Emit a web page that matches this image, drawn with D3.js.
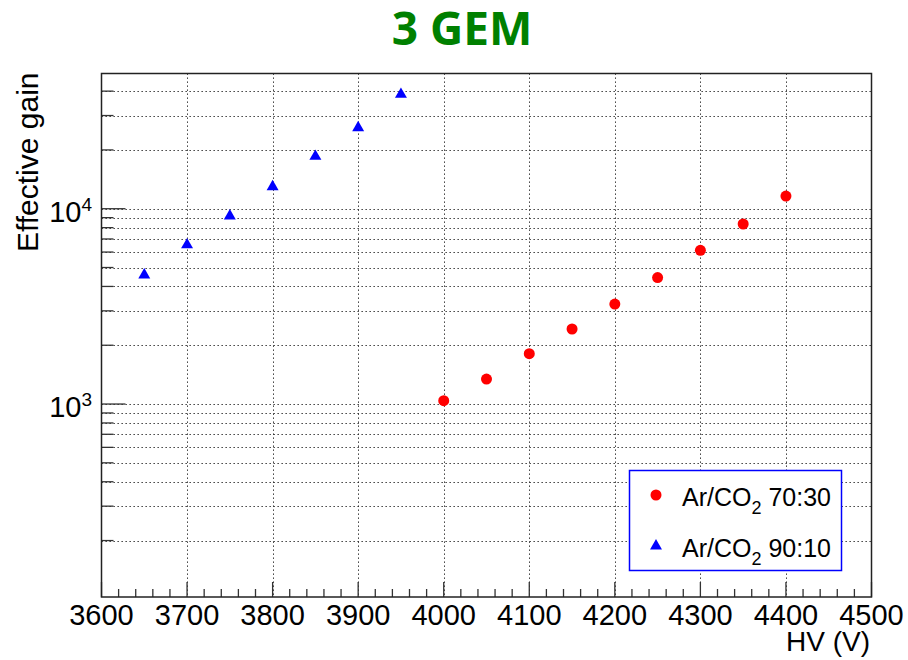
<!DOCTYPE html>
<html>
<head>
<meta charset="utf-8">
<script src="https://cdn.jsdelivr.net/npm/d3@7"></script>
<style>
  body { margin: 0; background: #fff; }
  text { font-family: "Liberation Sans", Arial, Helvetica, sans-serif; }
</style>
</head>
<body>
<div id="chart"></div>
<script>
// data
var hv7030 = [4000, 4050, 4100, 4150, 4200, 4250, 4300, 4350, 4400];
var gain7030 = [1040, 1343, 1811, 2422, 3250, 4440, 6120, 8350, 11610];
var hv9010 = [3650, 3700, 3750, 3800, 3850, 3900, 3950];
var gain9010 = [4576, 6530, 9185, 12960, 18530, 25980, 38530];
var xTicks = [3600, 3700, 3800, 3900, 4000, 4100, 4200, 4300, 4400, 4500];
var yDecades = [1000, 10000];
var xRange = [3600, 4500];
var yRange = [102.8, 49240];

var W = 908, H = 660;
var fLeft = 101.5, fRight = 871.5, fTop = 73.5, fBottom = 597;

var svg = d3.select("#chart")
    .append("svg")
    .attr("width", W)
    .attr("height", H);

var x = d3.scaleLinear().domain(xRange).range([fLeft, fRight]);
var y = d3.scaleLog().domain(yRange).range([fBottom, fTop]);

// all log ticks inside the range
var yAll = [];
for (var dec = 100; dec <= 100000; dec *= 10) {
  for (var k = 1; k < 10; k++) {
    var v = dec * k;
    if (v > yRange[0] && v < yRange[1]) yAll.push(v);
  }
}
var xMinor = d3.range(xRange[0], xRange[1] + 1, 20);

// Grid
var grid = svg.append("g")
    .attr("stroke", "#222")
    .attr("stroke-width", 1)
    .attr("stroke-dasharray", "1.3,2.7");
grid.selectAll(".gy").data(yAll).enter().append("line")
    .attr("x1", fLeft).attr("x2", fRight)
    .attr("y1", function (d) { return Math.round(y(d)) + 0.5; })
    .attr("y2", function (d) { return Math.round(y(d)) + 0.5; });
grid.selectAll(".gx").data(xTicks.slice(1, -1)).enter().append("line")
    .attr("y1", fTop).attr("y2", fBottom)
    .attr("x1", function (d) { return Math.round(x(d)) + 0.5; })
    .attr("x2", function (d) { return Math.round(x(d)) + 0.5; });

// Ticks
var ticks = svg.append("g").attr("stroke", "#333").attr("stroke-width", 1.3);
ticks.selectAll(".ty").data(yAll).enter().append("line")
    .attr("x1", fLeft)
    .attr("x2", function (d) { return fLeft + (yDecades.indexOf(d) >= 0 ? 24 : 12); })
    .attr("y1", function (d) { return y(d); })
    .attr("y2", function (d) { return y(d); });
ticks.selectAll(".tx").data(xMinor).enter().append("line")
    .attr("y1", fBottom)
    .attr("y2", function (d) { return fBottom - (d % 100 === 0 ? 15 : 8); })
    .attr("x1", function (d) { return x(d); })
    .attr("x2", function (d) { return x(d); });

// Frame
svg.append("rect")
    .attr("x", fLeft).attr("y", fTop)
    .attr("width", fRight - fLeft).attr("height", fBottom - fTop)
    .attr("fill", "none")
    .attr("stroke", "#222")
    .attr("stroke-width", 1.5);

// X tick labels
svg.selectAll(".xl").data(xTicks).enter().append("text")
    .attr("x", function (d) { return x(d); })
    .attr("y", 625)
    .attr("text-anchor", "middle")
    .style("font-size", "29px")
    .text(function (d) { return d; });

// Y tick labels (10^n)
yDecades.forEach(function (d) {
  var t = svg.append("text")
      .attr("x", 92)
      .attr("y", y(d) + 13)
      .attr("text-anchor", "end")
      .style("font-size", "29px");
  t.append("tspan").text("10");
  t.append("tspan")
      .attr("dy", -11)
      .style("font-size", "19px")
      .text(Math.round(Math.log10(d)));
});

// Axis titles
svg.append("text")
    .attr("x", 870)
    .attr("y", 651)
    .attr("text-anchor", "end")
    .style("font-size", "28px")
    .text("HV (V)");

svg.append("text")
    .attr("transform", "translate(38," + (fTop - 1) + ") rotate(-90)")
    .attr("text-anchor", "end")
    .style("font-size", "30px")
    .text("Effective gain");

// Title
svg.append("text")
    .attr("x", 462)
    .attr("y", 45)
    .attr("text-anchor", "middle")
    .style("font-family", "'Open Sans', sans-serif")
    .style("font-weight", "bold")
    .style("font-size", "46px")
    .style("fill", "#008000")
    .text("3 GEM");

// Points
var tri = d3.symbol().type(d3.symbolTriangle).size(62);

svg.selectAll(".p7030").data(hv7030).enter().append("circle")
    .attr("cx", function (d) { return x(d); })
    .attr("cy", function (d, i) { return y(gain7030[i]); })
    .attr("r", 5.5)
    .attr("fill", "#ff0000");

svg.selectAll(".p9010").data(hv9010).enter().append("path")
    .attr("d", tri)
    .attr("transform", function (d, i) { return "translate(" + x(d) + "," + y(gain9010[i]) + ")"; })
    .attr("fill", "#0000ff");

// Legend
var lg = svg.append("g");
lg.append("rect")
    .attr("x", 629.5).attr("y", 470.5)
    .attr("width", 212).attr("height", 100)
    .attr("fill", "#fff")
    .attr("stroke", "#0000ff")
    .attr("stroke-width", 1.5);
lg.append("circle").attr("cx", 656).attr("cy", 495).attr("r", 5.5).attr("fill", "#ff0000");
lg.append("path").attr("d", tri).attr("transform", "translate(656,546)").attr("fill", "#0000ff");

[["70:30", 505.5], ["90:10", 556.5]].forEach(function (e) {
  var t = lg.append("text")
      .attr("x", 682)
      .attr("y", e[1])
      .style("font-size", "25px");
  t.append("tspan").text("Ar/CO");
  t.append("tspan").attr("dy", 8).style("font-size", "18px").text("2");
  t.append("tspan").attr("dy", -8).text(" " + e[0]);
});
</script>
</body>
</html>
